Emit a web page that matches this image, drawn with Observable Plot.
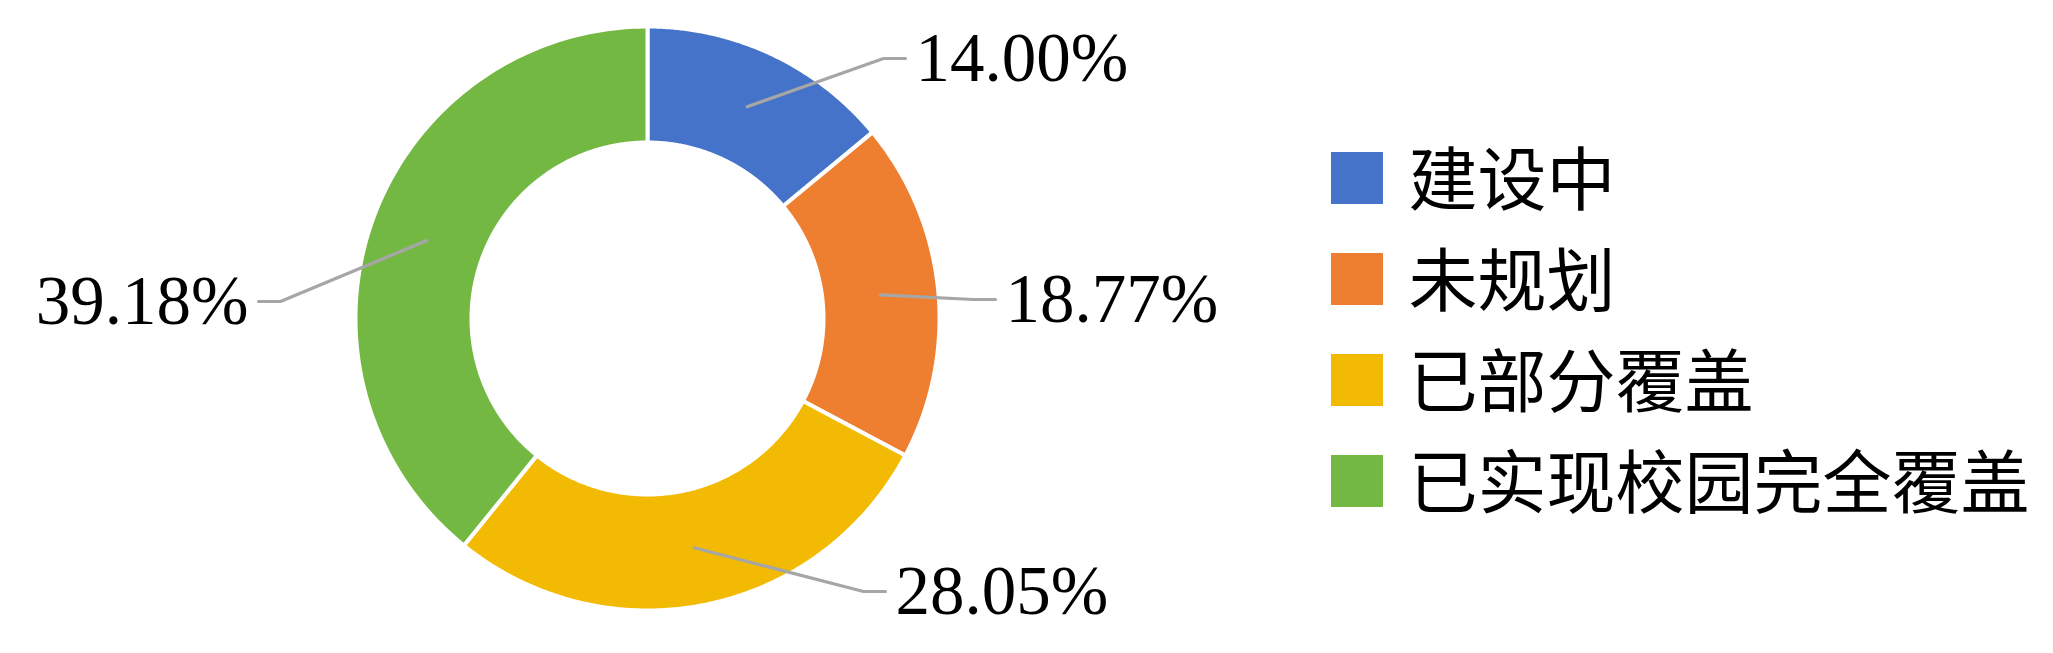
<!DOCTYPE html>
<html><head><meta charset="utf-8">
<script src="https://cdn.jsdelivr.net/npm/d3@7"></script>
<script src="https://cdn.jsdelivr.net/npm/@observablehq/plot@0.6"></script>
<style>html,body{margin:0;padding:0;background:#fff;overflow:hidden}</style>
</head><body><div id="chart"></div>
<script>
// ---- data ----
const categories = ["建设中", "未规划", "已部分覆盖", "已实现校园完全覆盖"];
const shares = [14.00, 18.77, 28.05, 39.18];
const labels = ["14.00%", "18.77%", "28.05%", "39.18%"];
const colors = ["#4573C9", "#EE7F30", "#F2BA02", "#74B844"];

// ---- layout ----
const W = 2053, H = 653;
const cx = 647, cy = 318, rOuter = 292, rInner = 176, rLeader = 234;
const labelEnd = [[258, -260], [348, -19], [238, 273], [-389, -17]]; // leader end offsets from centre
const labelSide = [1, 1, 1, -1];
const elbowLen = 22, labelGap = 10;
const legendX = 1331, legendSwatch = 52, legendTextX = 1408, legendY0 = 178, legendStep = 101;

const rows = categories.map((c, i) => ({cat: c, share: shares[i], label: labels[i], i}));
const arcs = d3.pie().sort(null).value(d => d.share)(rows);

// slice polygons
const pts = [];
const N = 160;
for (const a of arcs) {
  for (let k = 0; k <= N; k++) {
    const t = a.startAngle + (a.endAngle - a.startAngle) * k / N;
    pts.push({cat: a.data.cat, x: cx + rOuter * Math.sin(t), y: cy - rOuter * Math.cos(t)});
  }
  for (let k = N; k >= 0; k--) {
    const t = a.startAngle + (a.endAngle - a.startAngle) * k / N;
    pts.push({cat: a.data.cat, x: cx + rInner * Math.sin(t), y: cy - rInner * Math.cos(t)});
  }
}

// leader lines
const leaders = [];
const labelPts = [];
arcs.forEach((a, i) => {
  const m = (a.startAngle + a.endAngle) / 2;
  const ex = cx + labelEnd[i][0], ey = cy + labelEnd[i][1];
  const s = labelSide[i];
  leaders.push({k: i, x: cx + rLeader * Math.sin(m), y: cy - rLeader * Math.cos(m)});
  leaders.push({k: i, x: ex - s * elbowLen, y: ey});
  leaders.push({k: i, x: ex, y: ey});
  labelPts.push({x: ex + s * labelGap, y: ey, text: a.data.label, anchor: s > 0 ? "start" : "end"});
});

const legendRows = categories.map((c, i) => ({cat: c, yc: legendY0 + i * legendStep}));

const chart = Plot.plot({
  width: W, height: H, margin: 0,
  x: {domain: [0, W], range: [0, W], axis: null},
  y: {domain: [0, H], range: [0, H], axis: null},
  color: {domain: categories, range: colors},
  style: {background: "white", overflow: "visible"},
  marks: [
    Plot.line(pts, {x: "x", y: "y", z: "cat", fill: "cat", stroke: "white", strokeWidth: 4, curve: "linear-closed"}),
    Plot.line(leaders, {x: "x", y: "y", z: "k", stroke: "#A6A6A6", strokeWidth: 3.2}),
    Plot.text(labelPts.filter(d => d.anchor === "start"), {x: "x", y: "y", text: "text", textAnchor: "start", lineAnchor: "middle", fontSize: 69, fontFamily: "'Liberation Serif', 'Times New Roman', serif", fill: "black"}),
    Plot.text(labelPts.filter(d => d.anchor === "end"), {x: "x", y: "y", text: "text", textAnchor: "end", lineAnchor: "middle", fontSize: 69, fontFamily: "'Liberation Serif', 'Times New Roman', serif", fill: "black"}),
    Plot.rect(legendRows, {x1: () => legendX, x2: () => legendX + legendSwatch, y1: d => d.yc - legendSwatch / 2, y2: d => d.yc + legendSwatch / 2, fill: "cat"}),
    Plot.text(legendRows, {x: () => legendTextX, y: "yc", text: "cat", textAnchor: "start", lineAnchor: "middle", dy: 4, fontSize: 69, fontFamily: "'Noto Sans CJK SC', sans-serif", fill: "black"})
  ]
});
document.getElementById("chart").appendChild(chart);
</script>
</body></html>
